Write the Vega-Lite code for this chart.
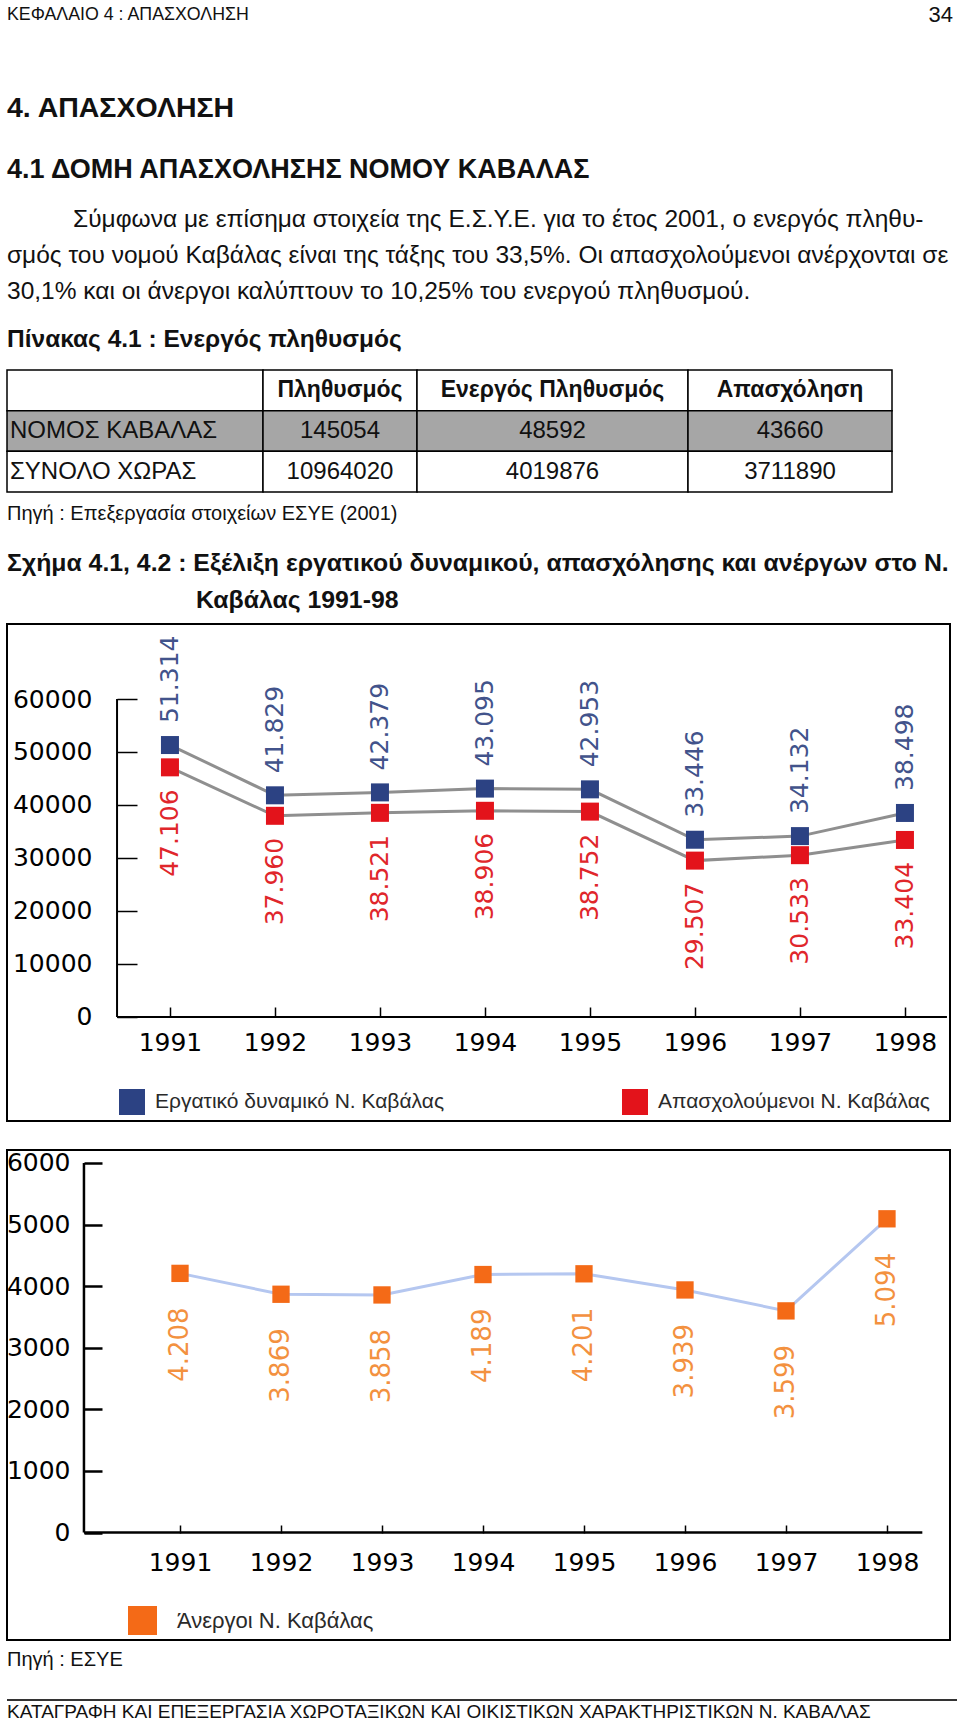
{
"$schema":"https://vega.github.io/schema/vega-lite/v6.json",
"background":"white",
"padding":{"left":5,"top":0,"right":0,"bottom":0},
"spacing":0,
"bounds":"flush",
"resolve":{"scale":{"color":"independent"},"legend":{"color":"independent"}},
"datasets":{
"tbl":[
{"row":0,"c1":"","c2":"Πληθυσμός","c3":"Ενεργός Πληθυσμός","c4":"Απασχόληση"},
{"row":1,"c1":"ΝΟΜΟΣ ΚΑΒΑΛΑΣ","c2":"145054","c3":"48592","c4":"43660"},
{"row":2,"c1":"ΣΥΝΟΛΟ ΧΩΡΑΣ","c2":"10964020","c3":"4019876","c4":"3711890"}],
"c1":[
{"year":1991,"series":"Εργατικό δυναμικό Ν. Καβάλας","value":51314},
{"year":1992,"series":"Εργατικό δυναμικό Ν. Καβάλας","value":41829},
{"year":1993,"series":"Εργατικό δυναμικό Ν. Καβάλας","value":42379},
{"year":1994,"series":"Εργατικό δυναμικό Ν. Καβάλας","value":43095},
{"year":1995,"series":"Εργατικό δυναμικό Ν. Καβάλας","value":42953},
{"year":1996,"series":"Εργατικό δυναμικό Ν. Καβάλας","value":33446},
{"year":1997,"series":"Εργατικό δυναμικό Ν. Καβάλας","value":34132},
{"year":1998,"series":"Εργατικό δυναμικό Ν. Καβάλας","value":38498},
{"year":1991,"series":"Απασχολούμενοι Ν. Καβάλας","value":47106},
{"year":1992,"series":"Απασχολούμενοι Ν. Καβάλας","value":37960},
{"year":1993,"series":"Απασχολούμενοι Ν. Καβάλας","value":38521},
{"year":1994,"series":"Απασχολούμενοι Ν. Καβάλας","value":38906},
{"year":1995,"series":"Απασχολούμενοι Ν. Καβάλας","value":38752},
{"year":1996,"series":"Απασχολούμενοι Ν. Καβάλας","value":29507},
{"year":1997,"series":"Απασχολούμενοι Ν. Καβάλας","value":30533},
{"year":1998,"series":"Απασχολούμενοι Ν. Καβάλας","value":33404}],
"c2":[
{"year":1991,"s2":"Άνεργοι Ν. Καβάλας","value":4208},
{"year":1992,"s2":"Άνεργοι Ν. Καβάλας","value":3869},
{"year":1993,"s2":"Άνεργοι Ν. Καβάλας","value":3858},
{"year":1994,"s2":"Άνεργοι Ν. Καβάλας","value":4189},
{"year":1995,"s2":"Άνεργοι Ν. Καβάλας","value":4201},
{"year":1996,"s2":"Άνεργοι Ν. Καβάλας","value":3939},
{"year":1997,"s2":"Άνεργοι Ν. Καβάλας","value":3599},
{"year":1998,"s2":"Άνεργοι Ν. Καβάλας","value":5094}]
},
"vconcat":[
{"width":946,"height":15,"data":{"values":[{"l":"ΚΕΦΑΛΑΙΟ 4 : ΑΠΑΣΧΟΛΗΣΗ","r":"34"}]},
 "encoding":{"y":{"datum":0,"type":"quantitative","scale":{"domain":[0,1]},"axis":null}},
 "layer":[
  {"mark":{"type":"text","align":"left","baseline":"middle","font":"Liberation Sans","fontSize":17.8,"color":"#111"},
   "encoding":{"x":{"datum":0,"type":"quantitative","scale":{"domain":[0,1]},"axis":null},"text":{"field":"l"}}},
  {"mark":{"type":"text","align":"right","baseline":"middle","font":"Liberation Sans","fontSize":22,"color":"#111"},
   "encoding":{"x":{"datum":1,"type":"quantitative","scale":{"domain":[0,1]},"axis":null},"text":{"field":"r"}}}
 ]},
{"width":946,"height":93,"data":{"values":[{"t":"4. ΑΠΑΣΧΟΛΗΣΗ"}]},
 "mark":{"type":"text","align":"left","baseline":"middle","font":"Liberation Sans","fontSize":28.5,"fontWeight":"bold","color":"#111"},
 "encoding":{"text":{"field":"t"},"x":{"datum":0,"type":"quantitative","scale":{"domain":[0,1]},"axis":null},"y":{"datum":0,"type":"quantitative","scale":{"domain":[0,1]},"axis":null}}},
{"width":946,"height":62,"data":{"values":[{"t":"4.1  ΔΟΜΗ ΑΠΑΣΧΟΛΗΣΗΣ ΝΟΜΟΥ ΚΑΒΑΛΑΣ"}]},
 "mark":{"type":"text","align":"left","baseline":"middle","font":"Liberation Sans","fontSize":27,"fontWeight":"bold","color":"#111"},
 "encoding":{"text":{"field":"t"},"x":{"datum":0,"type":"quantitative","scale":{"domain":[0,1]},"axis":null},"y":{"datum":0,"type":"quantitative","scale":{"domain":[0,1]},"axis":null}}},
{"width":946,"height":50,"data":{"values":[{"t":"Σύμφωνα με επίσημα στοιχεία της Ε.Σ.Υ.Ε. για το έτος 2001, ο ενεργός πληθυ-"}]},
 "mark":{"type":"text","align":"left","baseline":"middle","font":"Liberation Sans","fontSize":24.5,"color":"#111","dx":66},
 "encoding":{"text":{"field":"t"},"x":{"datum":0,"type":"quantitative","scale":{"domain":[0,1]},"axis":null},"y":{"datum":0,"type":"quantitative","scale":{"domain":[0,1]},"axis":null}}},
{"width":946,"height":36,"data":{"values":[{"t":"σμός του νομού Καβάλας είναι της τάξης του 33,5%. Οι απασχολούμενοι ανέρχονται σε"}]},
 "mark":{"type":"text","align":"left","baseline":"middle","font":"Liberation Sans","fontSize":24.5,"color":"#111"},
 "encoding":{"text":{"field":"t"},"x":{"datum":0,"type":"quantitative","scale":{"domain":[0,1]},"axis":null},"y":{"datum":0,"type":"quantitative","scale":{"domain":[0,1]},"axis":null}}},
{"width":946,"height":36,"data":{"values":[{"t":"30,1% και οι άνεργοι καλύπτουν το 10,25% του ενεργού πληθυσμού."}]},
 "mark":{"type":"text","align":"left","baseline":"middle","font":"Liberation Sans","fontSize":24.5,"color":"#111"},
 "encoding":{"text":{"field":"t"},"x":{"datum":0,"type":"quantitative","scale":{"domain":[0,1]},"axis":null},"y":{"datum":0,"type":"quantitative","scale":{"domain":[0,1]},"axis":null}}},
{"width":946,"height":48,"data":{"values":[{"t":"Πίνακας 4.1 : Ενεργός πληθυσμός"}]},
 "mark":{"type":"text","align":"left","baseline":"middle","font":"Liberation Sans","fontSize":24.5,"fontWeight":"bold","color":"#111"},
 "encoding":{"text":{"field":"t"},"x":{"datum":0,"type":"quantitative","scale":{"domain":[0,1]},"axis":null},"y":{"datum":0,"type":"quantitative","scale":{"domain":[0,1]},"axis":null}}},
{"spacing":0,"bounds":"flush","hconcat":[
 {"width":256,"height":152,"data":{"name":"tbl"},
  "encoding":{"y":{"field":"row","type":"ordinal","scale":{"type":"band","domain":[0,1,2],"paddingInner":0,"paddingOuter":0.369,"align":1},"axis":null}},
  "layer":[
   {"mark":{"type":"rect","stroke":"black","strokeWidth":1.5},"encoding":{"x":{"datum":0,"type":"quantitative","scale":{"domain":[0,1]},"axis":null},"x2":{"datum":1},"color":{"condition":{"test":"datum.row === 1","value":"#a6a6a6"},"value":"white"}}},
   {"mark":{"type":"text","align":"left","baseline":"middle","font":"Liberation Sans","fontSize":24,"color":"#111","dx":3},"encoding":{"x":{"datum":0,"type":"quantitative","scale":{"domain":[0,1]},"axis":null},"text":{"field":"c1"}}}
  ]},
 {"width":154,"height":152,"data":{"name":"tbl"},
  "encoding":{"y":{"field":"row","type":"ordinal","scale":{"type":"band","domain":[0,1,2],"paddingInner":0,"paddingOuter":0.369,"align":1},"axis":null}},
  "layer":[
   {"mark":{"type":"rect","stroke":"black","strokeWidth":1.5},"encoding":{"x":{"datum":0,"type":"quantitative","scale":{"domain":[0,1]},"axis":null},"x2":{"datum":1},"color":{"condition":{"test":"datum.row === 1","value":"#a6a6a6"},"value":"white"}}},
   {"transform":[{"filter":"datum.row === 0"}],"mark":{"type":"text","align":"center","baseline":"middle","font":"Liberation Sans","fontSize":23,"fontWeight":"bold","color":"#111"},"encoding":{"x":{"datum":0.5,"type":"quantitative","scale":{"domain":[0,1]},"axis":null},"text":{"field":"c2"}}},
   {"transform":[{"filter":"datum.row > 0"}],"mark":{"type":"text","align":"center","baseline":"middle","font":"Liberation Sans","fontSize":24,"color":"#111"},"encoding":{"x":{"datum":0.5,"type":"quantitative","scale":{"domain":[0,1]},"axis":null},"text":{"field":"c2"}}}
  ]},
 {"width":271,"height":152,"data":{"name":"tbl"},
  "encoding":{"y":{"field":"row","type":"ordinal","scale":{"type":"band","domain":[0,1,2],"paddingInner":0,"paddingOuter":0.369,"align":1},"axis":null}},
  "layer":[
   {"mark":{"type":"rect","stroke":"black","strokeWidth":1.5},"encoding":{"x":{"datum":0,"type":"quantitative","scale":{"domain":[0,1]},"axis":null},"x2":{"datum":1},"color":{"condition":{"test":"datum.row === 1","value":"#a6a6a6"},"value":"white"}}},
   {"transform":[{"filter":"datum.row === 0"}],"mark":{"type":"text","align":"center","baseline":"middle","font":"Liberation Sans","fontSize":23,"fontWeight":"bold","color":"#111"},"encoding":{"x":{"datum":0.5,"type":"quantitative","scale":{"domain":[0,1]},"axis":null},"text":{"field":"c3"}}},
   {"transform":[{"filter":"datum.row > 0"}],"mark":{"type":"text","align":"center","baseline":"middle","font":"Liberation Sans","fontSize":24,"color":"#111"},"encoding":{"x":{"datum":0.5,"type":"quantitative","scale":{"domain":[0,1]},"axis":null},"text":{"field":"c3"}}}
  ]},
 {"width":204,"height":152,"data":{"name":"tbl"},
  "encoding":{"y":{"field":"row","type":"ordinal","scale":{"type":"band","domain":[0,1,2],"paddingInner":0,"paddingOuter":0.369,"align":1},"axis":null}},
  "layer":[
   {"mark":{"type":"rect","stroke":"black","strokeWidth":1.5},"encoding":{"x":{"datum":0,"type":"quantitative","scale":{"domain":[0,1]},"axis":null},"x2":{"datum":1},"color":{"condition":{"test":"datum.row === 1","value":"#a6a6a6"},"value":"white"}}},
   {"transform":[{"filter":"datum.row === 0"}],"mark":{"type":"text","align":"center","baseline":"middle","font":"Liberation Sans","fontSize":23,"fontWeight":"bold","color":"#111"},"encoding":{"x":{"datum":0.5,"type":"quantitative","scale":{"domain":[0,1]},"axis":null},"text":{"field":"c4"}}},
   {"transform":[{"filter":"datum.row > 0"}],"mark":{"type":"text","align":"center","baseline":"middle","font":"Liberation Sans","fontSize":24,"color":"#111"},"encoding":{"x":{"datum":0.5,"type":"quantitative","scale":{"domain":[0,1]},"axis":null},"text":{"field":"c4"}}}
  ]}
]},
{"width":946,"height":174,"data":{"values":[{"t":"Πηγή : Επεξεργασία στοιχείων ΕΣΥΕ (2001)"}]},
 "mark":{"type":"text","align":"left","baseline":"middle","font":"Liberation Sans","fontSize":20,"color":"#111"},
 "encoding":{"text":{"field":"t"},"x":{"datum":0,"type":"quantitative","scale":{"domain":[0,1]},"axis":null},"y":{"datum":0,"type":"quantitative","scale":{"domain":[0,1]},"axis":null}}},
{"width":946,"height":110,"data":{"values":[{"line":1,"t":"Σχήμα 4.1, 4.2 : Εξέλιξη εργατικού δυναμικού, απασχόλησης και ανέργων στο Ν."},{"line":2,"t":"Καβάλας 1991-98"}]},
 "encoding":{"x":{"datum":0,"type":"quantitative","scale":{"domain":[0,1]},"axis":null},"y":{"field":"line","type":"ordinal","scale":{"type":"point","domain":[1,2],"padding":1.1176,"align":0.684},"axis":null},"text":{"field":"t"}},
 "layer":[
  {"transform":[{"filter":"datum.line === 1"}],"mark":{"type":"text","align":"left","baseline":"middle","font":"Liberation Sans","fontSize":24.8,"fontWeight":"bold","color":"#111"}},
  {"transform":[{"filter":"datum.line === 2"}],"mark":{"type":"text","align":"left","baseline":"middle","font":"Liberation Sans","fontSize":24.8,"fontWeight":"bold","color":"#111","dx":189}}
 ]},
{"spacing":29,"bounds":"flush","resolve":{"scale":{"color":"independent"},"legend":{"color":"independent"}},"vconcat":[
 {"width":943,"height":497,"view":{"stroke":"black","strokeWidth":2},"data":{"name":"c1"},
  "layer":[
   {"data":{"values":[{}]},"mark":{"type":"rule","color":"black","strokeWidth":2},
    "encoding":{"x":{"datum":1990.496,"type":"quantitative","scale":{"domain":[1989.448,1998.429],"nice":false,"zero":false}},"y":{"datum":0,"type":"quantitative","scale":{"domain":[-19623,74151],"nice":false,"zero":false}},"y2":{"datum":60000}}},
   {"data":{"values":[{}]},"mark":{"type":"rule","color":"black","strokeWidth":2},
    "encoding":{"x":{"datum":1990.496,"type":"quantitative","scale":{"domain":[1989.448,1998.429],"nice":false,"zero":false}},"x2":{"datum":1998.4},"y":{"datum":0,"type":"quantitative","scale":{"domain":[-19623,74151],"nice":false,"zero":false}}}},
   {"mark":{"type":"line","color":"#8f8f8f","strokeWidth":3},
    "encoding":{
     "x":{"field":"year","type":"quantitative","title":null,"scale":{"domain":[1989.448,1998.429],"nice":false,"zero":false},"axis":{"orient":"bottom","offset":-104,"values":[1991,1992,1993,1994,1995,1996,1997,1998],"format":"d","tickSize":-10,"labelPadding":23,"domain":false,"grid":false}},
     "y":{"field":"value","type":"quantitative","title":null,"scale":{"domain":[-19623,74151],"nice":false,"zero":false},"axis":{"orient":"left","offset":-110,"values":[0,10000,20000,30000,40000,50000,60000],"format":"d","tickSize":-20,"labelPadding":45,"domain":false,"grid":false}},
     "detail":{"field":"series"}}},
   {"mark":{"type":"point","shape":"square","filled":true,"size":324,"opacity":1},
    "encoding":{
     "x":{"field":"year","type":"quantitative","title":null,"scale":{"domain":[1989.448,1998.429],"nice":false,"zero":false}},
     "y":{"field":"value","type":"quantitative","title":null,"scale":{"domain":[-19623,74151],"nice":false,"zero":false}},
     "color":{"field":"series","type":"nominal","scale":{"domain":["Εργατικό δυναμικό Ν. Καβάλας","Απασχολούμενοι Ν. Καβάλας"],"range":["#2c4283","#e3131b"]},
      "legend":{"title":null,"orient":"none","legendX":112,"legendY":465,"direction":"horizontal","columns":2,"columnPadding":177,"symbolType":"square","symbolSize":676,"symbolStrokeWidth":0,"symbolOpacity":1,"labelFont":"Liberation Sans","labelFontSize":21,"labelColor":"#2a2a2a","labelOffset":10,"labelLimit":500,"padding":0}}}},
   {"transform":[{"filter":{"field":"series","equal":"Εργατικό δυναμικό Ν. Καβάλας"}}],
    "mark":{"type":"text","angle":270,"align":"left","baseline":"middle","dx":22,"font":"DejaVu Sans","fontSize":25,"color":"#42538b"},
    "encoding":{
     "x":{"field":"year","type":"quantitative","title":null,"scale":{"domain":[1989.448,1998.429],"nice":false,"zero":false}},
     "y":{"field":"value","type":"quantitative","title":null,"scale":{"domain":[-19623,74151],"nice":false,"zero":false}},
     "text":{"field":"value","type":"quantitative","format":",d"}}},
   {"transform":[{"filter":{"field":"series","equal":"Απασχολούμενοι Ν. Καβάλας"}}],
    "mark":{"type":"text","angle":270,"align":"right","baseline":"middle","dx":-22,"font":"DejaVu Sans","fontSize":25,"color":"#e0262b"},
    "encoding":{
     "x":{"field":"year","type":"quantitative","title":null,"scale":{"domain":[1989.448,1998.429],"nice":false,"zero":false}},
     "y":{"field":"value","type":"quantitative","title":null,"scale":{"domain":[-19623,74151],"nice":false,"zero":false}},
     "text":{"field":"value","type":"quantitative","format":",d"}}}
  ]},
 {"width":943,"height":490,"view":{"stroke":"black","strokeWidth":2},"data":{"name":"c2"},
  "layer":[
   {"data":{"values":[{}]},"mark":{"type":"rule","color":"black","strokeWidth":2.5},
    "encoding":{"x":{"datum":1990.049,"type":"quantitative","scale":{"domain":[1989.287,1998.624],"nice":false,"zero":false}},"y":{"datum":0,"type":"quantitative","scale":{"domain":[-1744,6211],"nice":false,"zero":false}},"y2":{"datum":6000}}},
   {"data":{"values":[{}]},"mark":{"type":"rule","color":"black","strokeWidth":2.5},
    "encoding":{"x":{"datum":1990.049,"type":"quantitative","scale":{"domain":[1989.287,1998.624],"nice":false,"zero":false}},"x2":{"datum":1998.35},"y":{"datum":0,"type":"quantitative","scale":{"domain":[-1744,6211],"nice":false,"zero":false}}}},
   {"mark":{"type":"line","color":"#b5c7f0","strokeWidth":3},
    "encoding":{
     "x":{"field":"year","type":"quantitative","title":null,"scale":{"domain":[1989.287,1998.624],"nice":false,"zero":false},"axis":{"orient":"bottom","offset":-107,"values":[1991,1992,1993,1994,1995,1996,1997,1998],"format":"d","tickSize":-8,"labelPadding":25,"domain":false,"grid":false}},
     "y":{"field":"value","type":"quantitative","title":null,"scale":{"domain":[-1744,6211],"nice":false,"zero":false},"axis":{"orient":"left","offset":-77,"values":[0,1000,2000,3000,4000,5000,6000],"format":"d","tickSize":-18,"labelPadding":32,"domain":false,"grid":false,"tickWidth":2.5}}}},
   {"mark":{"type":"point","shape":"square","filled":true,"size":300,"opacity":1},
    "encoding":{
     "x":{"field":"year","type":"quantitative","title":null,"scale":{"domain":[1989.287,1998.624],"nice":false,"zero":false}},
     "y":{"field":"value","type":"quantitative","title":null,"scale":{"domain":[-1744,6211],"nice":false,"zero":false}},
     "color":{"field":"s2","type":"nominal","scale":{"domain":["Άνεργοι Ν. Καβάλας"],"range":["#f46a17"]},
      "legend":{"title":null,"orient":"none","legendX":121,"legendY":456,"symbolType":"square","symbolSize":841,"symbolStrokeWidth":0,"symbolOpacity":1,"labelFont":"Liberation Sans","labelFontSize":22,"labelColor":"#2a2a2a","labelOffset":20,"labelLimit":500,"padding":0}}}},
   {"mark":{"type":"text","angle":270,"align":"right","baseline":"middle","dx":-34,"font":"DejaVu Sans","fontSize":26,"color":"#f3913f"},
    "encoding":{
     "x":{"field":"year","type":"quantitative","title":null,"scale":{"domain":[1989.287,1998.624],"nice":false,"zero":false}},
     "y":{"field":"value","type":"quantitative","title":null,"scale":{"domain":[-1744,6211],"nice":false,"zero":false}},
     "text":{"field":"value","type":"quantitative","format":",d"}}}
  ]}
]},
{"width":946,"height":1036,"data":{"values":[{"t":"Πηγή : ΕΣΥΕ"}]},
 "mark":{"type":"text","align":"left","baseline":"middle","font":"Liberation Sans","fontSize":20,"color":"#111"},
 "encoding":{"text":{"field":"t"},"x":{"datum":0,"type":"quantitative","scale":{"domain":[0,1]},"axis":null},"y":{"datum":0,"type":"quantitative","scale":{"domain":[0,1]},"axis":null}}},
{"width":950,"height":40,"data":{"values":[{}]},
 "mark":{"type":"rule","color":"#333","strokeWidth":2},
 "encoding":{"x":{"datum":0,"type":"quantitative","scale":{"domain":[0,1]},"axis":null},"x2":{"datum":1},"y":{"datum":0,"type":"quantitative","scale":{"domain":[0,1]},"axis":null}}},
{"width":946,"height":12,"data":{"values":[{"t":"ΚΑΤΑΓΡΑΦΗ ΚΑΙ ΕΠΕΞΕΡΓΑΣΙΑ ΧΩΡΟΤΑΞΙΚΩΝ ΚΑΙ ΟΙΚΙΣΤΙΚΩΝ ΧΑΡΑΚΤΗΡΙΣΤΙΚΩΝ Ν. ΚΑΒΑΛΑΣ"}]},
 "mark":{"type":"text","align":"left","baseline":"middle","font":"Liberation Sans","fontSize":19,"color":"#111"},
 "encoding":{"text":{"field":"t"},"x":{"datum":0,"type":"quantitative","scale":{"domain":[0,1]},"axis":null},"y":{"datum":0,"type":"quantitative","scale":{"domain":[0,1]},"axis":null}}}
],
"config":{
 "view":{"stroke":null},
 "locale":{"number":{"decimal":",","thousands":".","grouping":[3],"currency":["","€"]}},
 "axis":{"grid":false,"domain":false,"labelFont":"DejaVu Sans","labelFontSize":25,"labelColor":"black","tickColor":"black","tickWidth":1.5},
 "legend":{"padding":0}
}
}
